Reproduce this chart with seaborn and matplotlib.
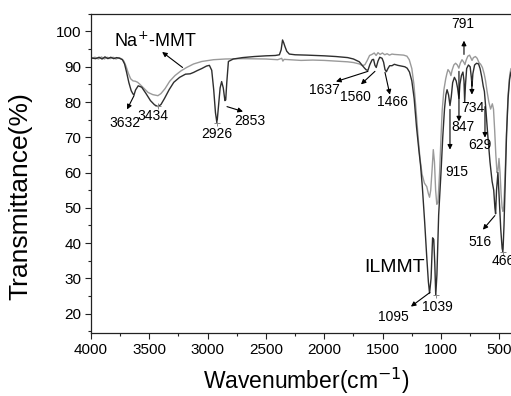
import matplotlib
matplotlib.use("Agg")
from matplotlib import pyplot as plt
from matplotlib.ticker import MultipleLocator
import seaborn as sns
import pandas as pd

# ILMMT spectrum (dark curve): (wavenumber, transmittance)
ilmmt_points = [
    (4000, 92.5), (3960, 92.3), (3930, 92.7), (3905, 92.2), (3880, 92.8), (3855, 92.3),
    (3830, 92.7), (3805, 92.3), (3780, 92.6), (3755, 92.4), (3730, 92.0), (3712, 90.8),
    (3695, 88.5), (3675, 85.5), (3655, 83.2), (3640, 82.3), (3631, 82.0), (3618, 83.4),
    (3595, 84.6), (3565, 84.2), (3530, 82.5), (3490, 80.4), (3455, 79.2), (3426, 78.7),
    (3400, 79.3), (3370, 81.0), (3330, 83.5), (3290, 85.6), (3240, 87.0), (3190, 87.9),
    (3150, 88.0), (3120, 88.4), (3090, 88.9), (3050, 89.5), (3010, 90.2), (2985, 90.4),
    (2965, 89.0), (2948, 83.5), (2933, 77.0), (2920, 74.0), (2908, 78.5), (2893, 84.0),
    (2880, 85.8), (2866, 84.0), (2852, 80.4), (2845, 80.6), (2836, 85.5), (2822, 91.5),
    (2780, 92.2), (2700, 92.6), (2600, 92.9), (2500, 93.1), (2420, 93.2), (2385, 93.4),
    (2370, 94.8), (2358, 97.6), (2348, 96.8), (2338, 95.8), (2322, 94.4), (2300, 93.6),
    (2250, 93.4), (2150, 93.3), (2000, 93.1), (1900, 92.9), (1800, 92.6), (1750, 92.2),
    (1700, 91.4), (1675, 90.4), (1655, 89.6), (1640, 89.1), (1626, 89.0), (1610, 90.6),
    (1590, 92.0), (1578, 92.1), (1566, 90.4), (1555, 89.8), (1540, 91.6), (1525, 92.7),
    (1505, 92.4), (1492, 91.3), (1480, 89.2), (1468, 88.6), (1455, 89.5), (1440, 90.3),
    (1420, 90.3), (1400, 90.7), (1370, 90.4), (1340, 90.2), (1310, 90.0), (1290, 89.6),
    (1270, 88.5), (1250, 86.0), (1230, 81.0), (1210, 73.0), (1190, 66.5), (1175, 62.0),
    (1160, 56.0), (1140, 46.0), (1122, 36.0), (1108, 29.0), (1098, 25.8), (1085, 30.0),
    (1072, 41.5), (1062, 41.0), (1053, 34.0), (1045, 25.2), (1035, 31.0), (1020, 48.0),
    (1000, 60.0), (985, 70.0), (970, 78.0), (958, 82.0), (948, 83.5), (935, 82.0),
    (923, 79.0), (912, 81.5), (900, 85.5), (885, 87.0), (870, 86.0), (858, 84.0),
    (846, 81.0), (838, 85.0), (825, 87.5), (812, 88.5), (803, 86.0), (797, 80.0),
    (790, 85.0), (780, 89.5), (765, 90.5), (750, 90.0), (740, 87.0), (734, 84.5),
    (727, 88.0), (712, 90.5), (695, 91.0), (678, 90.8), (665, 89.5), (650, 87.0),
    (638, 84.5), (628, 83.0), (618, 79.0), (600, 71.0), (580, 63.0), (562, 57.5),
    (548, 55.0), (538, 50.0), (532, 48.3), (524, 55.0), (512, 60.0), (500, 52.0),
    (488, 44.0), (476, 38.5), (469, 37.5), (460, 45.0), (450, 57.0), (438, 71.0),
    (425, 81.0), (412, 86.5), (400, 88.5),
]

# Na+-MMT spectrum (light curve)
namt_points = [
    (4000, 92.4), (3965, 92.7), (3935, 92.2), (3910, 92.8), (3885, 92.2), (3860, 92.7),
    (3835, 92.3), (3810, 92.7), (3785, 92.2), (3760, 92.6), (3735, 92.2), (3718, 91.6),
    (3700, 90.2), (3680, 88.2), (3660, 86.6), (3640, 86.0), (3620, 85.9), (3600, 85.6),
    (3580, 85.0), (3550, 84.0), (3510, 82.7), (3470, 82.1), (3440, 81.9), (3426, 81.8),
    (3400, 82.4), (3365, 83.8), (3325, 85.9), (3280, 87.5), (3230, 88.8), (3180, 89.8),
    (3120, 90.8), (3050, 91.5), (2950, 92.0), (2850, 92.2), (2700, 92.3), (2500, 92.2),
    (2400, 92.0), (2365, 92.4), (2355, 91.6), (2345, 92.1), (2300, 92.0), (2200, 91.8),
    (2100, 91.9), (2000, 91.8), (1900, 91.6), (1800, 91.4), (1750, 91.2), (1700, 90.8),
    (1672, 90.3), (1652, 90.6), (1632, 91.8), (1612, 93.2), (1592, 93.5), (1572, 93.9),
    (1556, 93.2), (1540, 94.0), (1522, 93.5), (1502, 93.9), (1482, 93.4), (1462, 93.7),
    (1442, 93.3), (1420, 93.6), (1400, 93.5), (1360, 93.4), (1320, 93.3), (1292, 93.0),
    (1272, 92.0), (1250, 89.5), (1232, 85.0), (1212, 77.0), (1196, 70.0), (1180, 64.0),
    (1162, 59.5), (1142, 57.0), (1122, 56.0), (1108, 54.0), (1098, 53.0), (1088, 55.0),
    (1076, 61.0), (1066, 66.5), (1056, 63.0), (1046, 55.0), (1036, 51.0), (1026, 51.5),
    (1012, 60.0), (1000, 70.0), (990, 77.5), (975, 83.5), (960, 86.5), (950, 88.0),
    (940, 89.2), (925, 88.5), (915, 87.5), (905, 89.0), (890, 90.5), (875, 91.0),
    (860, 90.5), (847, 89.6), (835, 91.0), (820, 92.0), (805, 91.3), (795, 90.6),
    (785, 91.8), (770, 93.0), (755, 93.3), (745, 92.6), (734, 91.8), (722, 92.6),
    (705, 92.9), (690, 92.4), (675, 91.2), (660, 90.7), (645, 89.8), (630, 88.0),
    (618, 86.0), (605, 83.0), (590, 80.0), (575, 78.0), (560, 79.5), (550, 78.0),
    (540, 72.0), (530, 65.0), (520, 60.0), (512, 60.5), (503, 64.0), (494, 60.0),
    (485, 54.0), (476, 50.0), (469, 49.0), (462, 50.5), (452, 58.0), (440, 70.0),
    (425, 82.0), (410, 88.0), (400, 89.5),
]

# peak labels: (text, text wn, text T)
peak_labels = [("3632", 3709, 74.0), ("3434", 3469, 75.9), ("2926", 2920, 71.0),
               ("2853", 2640, 74.6), ("1637", 2000, 83.5), ("1560", 1737, 81.3),
               ("1466", 1412, 79.9), ("791", 812, 102.0), ("734", 726, 78.4),
               ("847", 812, 72.8), ("629", 666, 67.9), ("915", 863, 60.3),
               ("516", 666, 40.4), ("466", 469, 34.8), ("1095", 1412, 19.1),
               ("1039", 1035, 22.0)]
# arrows: (tail wn, tail T, head wn, head T)
peak_arrows = [(3631, 81.8, 3691, 77.9), (2834, 78.7, 2697, 77.3),
               (1626, 88.7, 1900, 85.8), (1566, 88.7, 1686, 85.0),
               (1480, 88.4, 1438, 82.1), (803, 93.5, 803, 97.4),
               (735, 85.8, 735, 82.1), (846, 88.7, 846, 74.5),
               (623, 78.7, 623, 69.9), (923, 77.9, 923, 66.5),
               (538, 47.8, 641, 43.8), (1095, 26.0, 1258, 22.0),
               (3215, 89.8, 3390, 94.2)]
# small "+" markers at band minima
mark_wn = [3426, 2920, 1045, 469]
mark_t = [79.0, 74.0, 25.2, 37.6]

sns.set_style("ticks")
plt.rcParams["font.family"] = ["Liberation Sans", "DejaVu Sans"]

fig = plt.figure(figsize=(5.11, 3.96), dpi=100)
ax = fig.add_axes([0.178, 0.159, 0.822, 0.806])

df_na = pd.DataFrame(namt_points, columns=["wn", "t"])
df_il = pd.DataFrame(ilmmt_points, columns=["wn", "t"])
sns.lineplot(data=df_na, x="wn", y="t", color="#9a9a9a", lw=1.0, ax=ax, sort=False)
sns.lineplot(data=df_il, x="wn", y="t", color="#2e2e2e", lw=1.0, ax=ax, sort=False)
ax.plot(mark_wn, mark_t, ls="none", marker="+", ms=5, mew=0.7, color="#888888")

for txt, x, y in peak_labels:
    ax.text(x, y, txt, fontsize=10, ha="center", va="center", color="black", clip_on=False)
for x0, y0, x1, y1 in peak_arrows:
    ax.annotate("", xy=(x1, y1), xytext=(x0, y0),
                arrowprops=dict(arrowstyle="-|>", color="black", lw=0.8,
                                mutation_scale=7, shrinkA=0, shrinkB=0))

ax.text(3451, 97.4, "Na$^{+}$-MMT", fontsize=13, ha="center", va="center", color="black")
ax.text(1395, 33.0, "ILMMT", fontsize=14, ha="center", va="center", color="black")

ax.set_xlim(4000, 400)
ax.set_ylim(14.5, 105)
ax.xaxis.set_major_locator(MultipleLocator(500))
ax.xaxis.set_minor_locator(MultipleLocator(250))
ax.yaxis.set_major_locator(MultipleLocator(10))
ax.yaxis.set_minor_locator(MultipleLocator(5))
ax.set_yticks(range(20, 101, 10))
ax.tick_params(which="major", direction="out", length=4, width=0.8, labelsize=11,
               pad=3, colors="#222222", labelcolor="black")
ax.tick_params(which="minor", direction="out", length=2.5, width=0.8, colors="#222222")
ax.spines["right"].set_visible(False)
for s in ["left", "bottom", "top"]:
    ax.spines[s].set_linewidth(0.9)
    ax.spines[s].set_color("#222222")

ax.set_xlabel("Wavenumber(cm$^{-1}$)", fontsize=16.5, color="black")
ax.set_ylabel("Transmittance(%)", fontsize=19, color="black")
ax.xaxis.set_label_coords(0.514, -0.103)
ax.yaxis.set_label_coords(-0.14, 0.43)

fig.savefig("out.png", dpi=100)
